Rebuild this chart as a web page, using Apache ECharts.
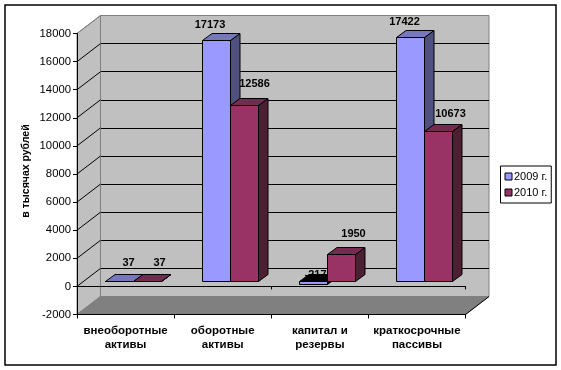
<!DOCTYPE html>
<html>
<head>
<meta charset="utf-8">
<style>html,body{margin:0;padding:0;background:#fff}#c{width:561px;height:370px}</style>
<script src="https://cdn.jsdelivr.net/npm/echarts@6/dist/echarts.min.js"></script>
</head>
<body>
<div id="c"></div>
<script>
const categories = ['внеоборотные\nактивы', 'оборотные\nактивы', 'капитал и\nрезервы', 'краткосрочные\nпассивы'];
const seriesNames = ['2009 г.', '2010 г.'];
const values2009 = [37, 17173, -217, 17422];
const values2010 = [37, 12586, 1950, 10673];
const yTicks = [0, 2000, 4000, 6000, 8000, 10000, 12000, 14000, 16000, 18000];
const yMin = -2000, yMax = 18000, yStep = 2000;

// layout and styles
const FONT = '"Liberation Sans", Arial, sans-serif';
const front = {left: 77, top: 33.5, width: 388.5, height: 281};
const DX = 23.5, DY = -18;                 // wall depth
const barShift = [7, -5];                  // bar front plane relative to chart front
const barDepth = [9.5, -7];
const barFrac = 0.288;
const labelShift2009 = [[9, -19], [-6.5, -16], [2, -7], [-6, -15.5]];
const labelShift2010 = [[12, -19], [10, -22], [12, -20.5], [12, -17.5]];
const palette = [
  {front: '#9999ff', top: '#7777bb', side: '#50507f'},
  {front: '#993366', top: '#772a4f', side: '#4c1f33'}
];

function snap(v) { return Math.round(v) + 0.5; }

function barRender(idx, labelShift) {
  return function (params, api) {
    const cat = api.value(0), val = api.value(1);
    const c = palette[idx];
    const w = api.size([1, 0])[0] * barFrac;
    const pTop = api.coord([cat, Math.max(val, 0)]);
    const pBot = api.coord([cat, Math.min(val, 0)]);
    const cx = pTop[0] + barShift[0] + (idx === 0 ? -w / 2 : w / 2);
    const x0 = snap(cx - w / 2), x1 = snap(cx + w / 2);
    const yT = snap(pTop[1] + barShift[1]), yB = snap(pBot[1] + barShift[1]);
    const dx = barDepth[0], dy = barDepth[1];
    const neg = val < 0;
    const line = {stroke: '#000', lineWidth: 1};
    const text = {
      type: 'text', z2: 1,
      style: {
        text: String(val), x: (x0 + x1) / 2 + labelShift[cat][0], y: yT + labelShift[cat][1],
        align: 'center', verticalAlign: 'middle', fill: '#000',
        font: 'bold 11px ' + FONT
      }
    };
    return {
      type: 'group',
      children: [
        text,
        {type: 'polygon', z2: 2, shape: {points: [[x1, yT], [x1 + dx, yT + dy], [x1 + dx, yB + dy], [x1, yB]]},
          style: Object.assign({fill: neg ? '#000' : c.side}, line)},
        {type: 'polygon', z2: 3, shape: {points: [[x0, yT], [x0 + dx, yT + dy], [x1 + dx, yT + dy], [x1, yT]]},
          style: Object.assign({fill: neg ? '#000' : c.top}, line)},
        {type: 'rect', z2: 4, shape: {x: x0, y: yT, width: x1 - x0, height: yB - yT},
          style: Object.assign({fill: c.front}, line)}
      ]
    };
  };
}

function wallRender(params, api) {
  const w = api.size([1, 0])[0];
  const l = api.coord([0, yMin])[0] - w / 2;
  const r = api.coord([categories.length - 1, yMin])[0] + w / 2;
  const bottom = api.coord([0, yMin])[1], top = api.coord([0, yMax])[1];
  return {
    type: 'group',
    children: [
      {type: 'polygon', shape: {points: [[l, top], [l + DX, top + DY], [l + DX, bottom + DY], [l, bottom]]},
        style: {fill: '#c0c0c0', stroke: '#808080', lineWidth: 1}},
      {type: 'polygon', z2: 5, shape: {points: [[l, bottom], [l + DX, bottom + DY], [r + DX, bottom + DY], [r, bottom]]},
        style: {fill: '#808080', stroke: '#808080', lineWidth: 1}},
      {type: 'line', z2: 6, shape: {x1: r, y1: bottom, x2: r + DX, y2: bottom + DY},
        style: {stroke: '#000', lineWidth: 1}}
    ]
  };
}

function diagRender(params, api) {
  const v = api.value(1);
  const w = api.size([1, 0])[0];
  const p = api.coord([0, v]);
  const l = p[0] - w / 2;
  return {
    type: 'line',
    shape: {x1: l, y1: p[1], x2: l + DX, y2: p[1] + DY},
    style: {stroke: v === yMax ? '#808080' : '#000', lineWidth: 1}
  };
}

const chart = echarts.init(document.getElementById('c'), null, {renderer: 'canvas'});
chart.setOption({
  animation: false,
  backgroundColor: '#fff',
  textStyle: {fontFamily: FONT},
  graphic: [{
    type: 'rect', z: 100, silent: true,
    shape: {x: 5, y: 5, width: 551, height: 360},
    style: {fill: 'none', stroke: '#000', lineWidth: 1.5}
  }],
  legend: {
    orient: 'vertical', left: 500.5, top: 166,
    data: seriesNames,
    icon: 'rect', itemWidth: 7, itemHeight: 7, itemGap: 5,
    padding: [5, 4, 5, 4],
    borderColor: '#000', borderWidth: 1, backgroundColor: '#fff',
    itemStyle: {borderColor: '#000', borderWidth: 1},
    textStyle: {fontFamily: FONT, fontSize: 11, color: '#000', padding: [0, 0, 0, -3]}
  },
  grid: [
    {left: front.left + DX, top: front.top + DY, width: front.width, height: front.height,
      show: true, backgroundColor: '#c0c0c0', borderColor: '#808080', borderWidth: 1},
    {left: front.left, top: front.top, width: front.width, height: front.height}
  ],
  xAxis: [
    {gridIndex: 0, type: 'category', data: categories, show: false},
    {gridIndex: 1, type: 'category', data: categories, position: 'bottom', z: 6,
      axisLine: {onZero: false, lineStyle: {color: '#000', width: 1}},
      axisTick: {show: true, length: 4, lineStyle: {color: '#000'}},
      axisLabel: {interval: 0, margin: 9, lineHeight: 14, color: '#000',
        fontFamily: FONT, fontSize: 11.5, fontWeight: 'bold'}},
    {gridIndex: 1, type: 'category', data: categories, position: 'top', z: 6,
      axisLine: {onZero: true, lineStyle: {color: '#000', width: 1}},
      axisTick: {show: true, inside: true, length: 3, lineStyle: {color: '#000'}},
      axisLabel: {show: false}}
  ],
  yAxis: [
    {gridIndex: 0, type: 'value', min: yMin, max: yMax, interval: yStep,
      axisLine: {show: false}, axisTick: {show: false}, axisLabel: {show: false},
      splitLine: {show: true, showMinLine: false, showMaxLine: false, lineStyle: {color: '#000', width: 1}}},
    {gridIndex: 1, type: 'value', min: yMin, max: yMax, interval: yStep, z: 6,
      name: 'в тысячах рублей', nameLocation: 'middle', nameRotate: 90, nameGap: 45, nameMoveOverlap: false,
      nameTextStyle: {fontFamily: FONT, fontSize: 10.5, fontWeight: 'bold', color: '#000', padding: [0, 0, 0, 6]},
      axisLine: {show: true, onZero: false, lineStyle: {color: '#000', width: 1}},
      axisTick: {show: true, length: 4, lineStyle: {color: '#000'}},
      axisLabel: {margin: 6, color: '#000', fontFamily: FONT, fontSize: 11.3, formatter: v => String(v)},
      splitLine: {show: false}}
  ],
  series: [
    {type: 'custom', xAxisIndex: 1, yAxisIndex: 1, z: 1, silent: true, renderItem: wallRender,
      data: [[0, yMin]], encode: {x: 0, y: 1}},
    {type: 'custom', xAxisIndex: 1, yAxisIndex: 1, z: 2, silent: true, renderItem: diagRender,
      data: yTicks.map(v => [0, v]), encode: {x: 0, y: 1}},
    {name: seriesNames[0], type: 'custom', xAxisIndex: 1, yAxisIndex: 1, z: 5,
      itemStyle: {color: palette[0].front},
      renderItem: barRender(0, labelShift2009),
      data: values2009.map((v, i) => [i, v]), encode: {x: 0, y: 1}},
    {name: seriesNames[1], type: 'custom', xAxisIndex: 1, yAxisIndex: 1, z: 5,
      itemStyle: {color: palette[1].front},
      renderItem: barRender(1, labelShift2010),
      data: values2010.map((v, i) => [i, v]), encode: {x: 0, y: 1}}
  ]
});
</script>
</body>
</html>
